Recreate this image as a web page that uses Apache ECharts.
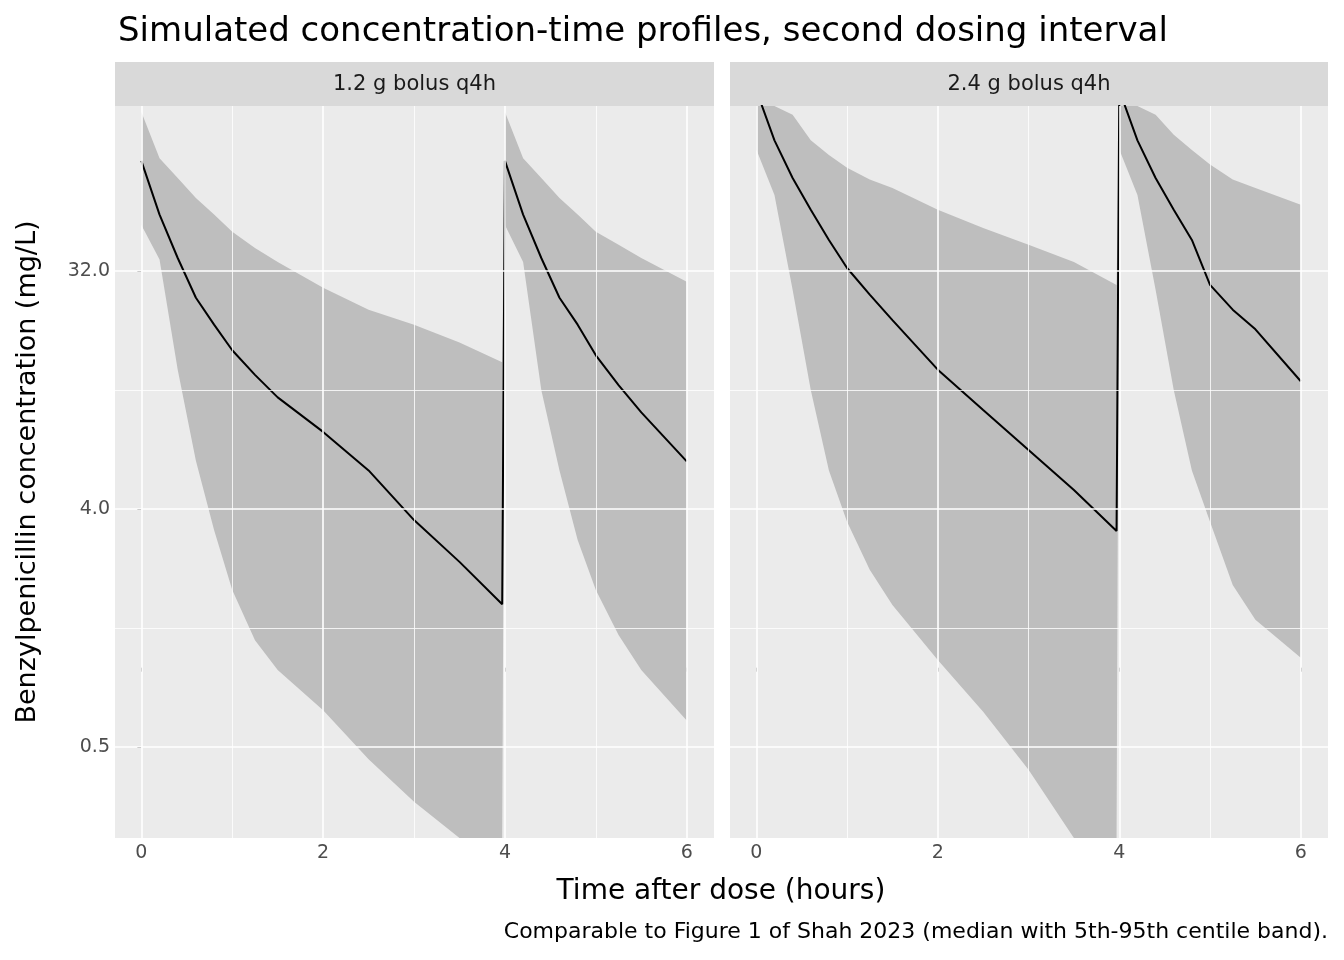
<!DOCTYPE html>
<html>
<head>
<meta charset="utf-8">
<script src="https://cdn.jsdelivr.net/npm/echarts@6/dist/echarts.min.js"></script>
<style>html,body{margin:0;padding:0;background:#fff}#c{width:1344px;height:960px}</style>
</head>
<body>
<div id="c"></div>
<script>
// time after dose (hours), shared by both panels
const times = [0, 0.2, 0.4, 0.6, 0.8, 1, 1.25, 1.5, 2, 2.5, 3, 3.5, 3.97, 4, 4.2, 4.4, 4.6, 4.8, 5, 5.25, 5.5, 6];

// concentrations in mg/L
const upper1 = [128, 85.6, 72, 60.5, 52.3, 45, 39.1, 34.6, 27.6, 22.8, 20, 17.1, 14.4, 128, 85.6, 72, 60.5, 52.3, 45, 40.2, 35.8, 29.1];
const lower1 = [47.8, 35.3, 13.5, 6.1, 3.33, 1.97, 1.27, 0.98, 0.69, 0.45, 0.31, 0.17, 0.13, 47.8, 34.6, 11.3, 5.6, 3.05, 1.97, 1.33, 0.98, 0.63];
const median1 = [83.6, 52.3, 35.8, 25.3, 20, 16, 12.9, 10.6, 7.84, 5.6, 3.63, 2.52, 1.74, 83.6, 52.3, 35.8, 25.3, 20, 15.3, 11.8, 9.3, 6.06];

const upper2 = [185, 155, 125, 100, 88, 78.8, 71, 66, 54.6, 46.5, 40.2, 34.6, 28.3, 185, 155, 125, 105, 92, 81, 71, 66, 57];
const lower2 = [92.4, 62, 27.1, 11.3, 5.6, 3.58, 2.35, 1.73, 1.07, 0.68, 0.41, 0.2, 0.13, 92.4, 62, 27.1, 11.3, 5.6, 3.58, 2.06, 1.52, 1.09];
const median2 = [155, 100, 72, 54.6, 41.9, 32.8, 26, 20.8, 13.5, 9.5, 6.7, 4.72, 3.3, 155, 100, 72, 54.6, 41.9, 28.3, 22.8, 19.2, 12.2];

const panels = ['1.2 g bolus q4h', '2.4 g bolus q4h'];
const yTicks = [0.5, 4, 32];
const yMinor = [Math.SQRT2, 8 * Math.SQRT2];
const xTicks = [0, 2, 4, 6];
const xMinor = [1, 3, 5];

const L = Math.log2;
const font = 'DejaVu Sans';
const grids = [
  { left: 115, top: 106, width: 599, height: 732 },
  { left: 730, top: 106, width: 598, height: 732 }
];

function pts(vals) { return times.map((t, i) => [t, L(vals[i])]); }

// band polygon drawn once, from the whole data array, through the axis scales
function bandRender(rows) {
  return function (params, api) {
    if (params.dataIndex !== 0) return;
    const cs = params.coordSys;
    const clampY = y => Math.max(cs.y, Math.min(cs.y + cs.height, y));
    const top = rows.map(r => { const p = api.coord([r[0], r[2]]); return [p[0], clampY(p[1])]; });
    const bot = rows.map(r => { const p = api.coord([r[0], r[1]]); return [p[0], clampY(p[1])]; }).reverse();
    return { type: 'polygon', shape: { points: top.concat(bot) }, style: { fill: '#bebebe' } };
  };
}

const xAxis = [], yAxis = [], series = [];
[[upper1, lower1, median1], [upper2, lower2, median2]].forEach((d, k) => {
  xAxis.push({
    gridIndex: k, type: 'value', min: -0.29, max: 6.3,
    splitLine: { show: false }, axisLine: { show: false },
    axisTick: { show: true, customValues: xTicks, length: 4, lineStyle: { color: '#333' } },
    axisLabel: { customValues: xTicks, color: '#4d4d4d', fontSize: 19, fontFamily: font, margin: 6 }
  });
  yAxis.push({
    gridIndex: k, type: 'value', min: L(0.226), max: L(135),
    splitLine: { show: false }, axisLine: { show: false },
    axisTick: { show: k === 0, customValues: yTicks.map(L), length: 4, lineStyle: { color: '#333' } },
    axisLabel: { show: k === 0, customValues: yTicks.map(L), color: '#4d4d4d', fontSize: 19, fontFamily: font, margin: 5,
      formatter: v => Math.pow(2, v).toFixed(1) },
    name: k === 0 ? 'Benzylpenicillin concentration (mg/L)' : '',
    nameLocation: 'middle', nameGap: 74,
    nameTextStyle: { fontSize: 27, fontFamily: font, color: '#000' }
  });
  // panel grid lines
  series.push({
    type: 'line', xAxisIndex: k, yAxisIndex: k, data: [], z: 1, silent: true,
    markLine: {
      silent: true, symbol: 'none', label: { show: false }, animation: false,
      data: [
        ...yTicks.map(v => ({ yAxis: L(v), lineStyle: { color: '#fff', width: 1.6, type: 'solid' } })),
        ...yMinor.map(v => ({ yAxis: L(v), lineStyle: { color: '#fff', width: 0.8, type: 'solid' } })),
        ...xTicks.map(v => ({ xAxis: v, lineStyle: { color: '#fff', width: 1.6, type: 'solid' } })),
        ...xMinor.map(v => ({ xAxis: v, lineStyle: { color: '#fff', width: 0.8, type: 'solid' } }))
      ]
    }
  });
  const rows = times.map((t, i) => [t, L(d[1][i]), L(d[0][i])]);
  series.push({
    type: 'custom', xAxisIndex: k, yAxisIndex: k, data: rows, z: 2, silent: true,
    encode: { x: 0, y: [1, 2] }, renderItem: bandRender(rows)
  });
  series.push({
    type: 'line', xAxisIndex: k, yAxisIndex: k, data: pts(d[2]),
    symbol: 'none', lineStyle: { color: '#000', width: 2 }, z: 3
  });
});

const strips = [];
grids.forEach((g, k) => {
  strips.push({ type: 'rect', shape: { x: g.left, y: 62, width: g.width, height: 44 }, style: { fill: '#d9d9d9' } });
  strips.push({ type: 'text', x: g.left + g.width / 2, y: 85,
    style: { text: panels[k], fontSize: 21, fontFamily: font, fill: '#1a1a1a', align: 'center', verticalAlign: 'middle' } });
});

const chart = echarts.init(document.getElementById('c'));
chart.setOption({
  animation: false,
  title: { text: 'Simulated concentration-time profiles, second dosing interval', left: 113, top: 10,
    textStyle: { fontSize: 34, fontWeight: 'normal', fontFamily: font, color: '#000' } },
  grid: grids.map(g => Object.assign({ show: true, backgroundColor: '#ebebeb', borderWidth: 0 }, g)),
  xAxis, yAxis, series,
  graphic: [
    ...strips,
    { type: 'text', x: 721, y: 892, style: { text: 'Time after dose (hours)', fontSize: 28, fontFamily: font, fill: '#000', align: 'center', verticalAlign: 'middle' } },
    { type: 'text', x: 1328, y: 932, style: { text: 'Comparable to Figure 1 of Shah 2023 (median with 5th-95th centile band).', fontSize: 22, fontFamily: font, fill: '#000', align: 'right', verticalAlign: 'middle' } }
  ]
});
</script>
</body>
</html>
